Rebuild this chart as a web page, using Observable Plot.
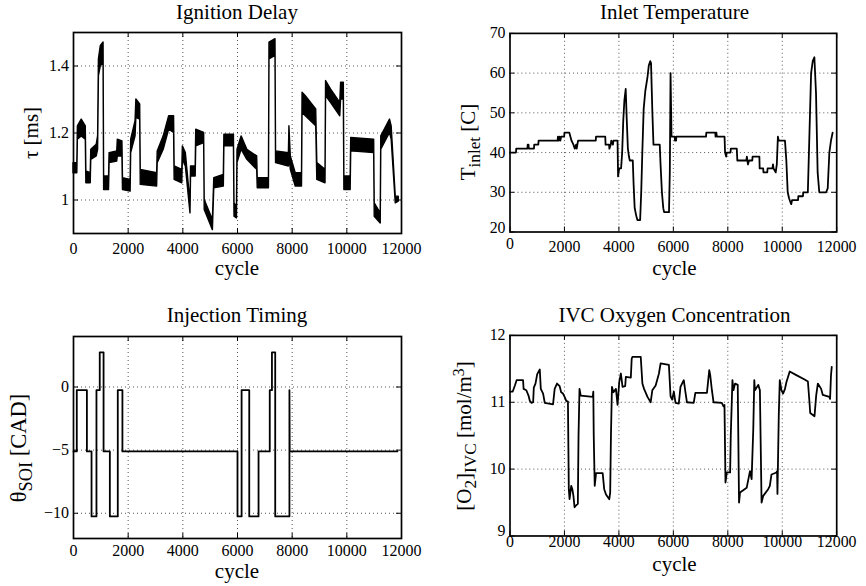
<!DOCTYPE html>
<html><head><meta charset="utf-8">
<script src="https://cdn.jsdelivr.net/npm/d3@7"></script>
<script src="https://cdn.jsdelivr.net/npm/@observablehq/plot@0.6"></script>
<style>
html,body{margin:0;padding:0;background:#fff;}
#chart{position:relative;width:866px;height:586px;overflow:hidden;background:#fff;font-family:"Liberation Serif","Times New Roman",serif;color:#000;}
.panel{position:absolute;}
.lbl{position:absolute;left:0;top:0;white-space:nowrap;line-height:0.6;}
.sub{font-size:0.82em;position:relative;top:0.3em;}
.sup{font-size:0.75em;position:relative;top:-0.45em;}
svg text{font-family:"Liberation Serif","Times New Roman",serif;}
</style></head><body><div id="chart"></div>
<script>
// ---------- data ----------
const xTicks = [0, 2000, 4000, 6000, 8000, 10000, 12000];
const titles = ["Ignition Delay", "Inlet Temperature", "Injection Timing", "IVC Oxygen Concentration"];

// Ignition delay [ms] (noise envelope lo / hi)
const idCycle = [0,140,160,300,450,470,630,650,850,900,930,1000,1100,1120,1300,1320,1600,1620,1790,1810,2090,2110,2270,2300,2440,2460,3060,3080,3300,3500,3680,3700,3980,4000,4110,4280,4300,4470,4490,4780,4800,5100,5150,5500,5520,5870,5890,5980,6000,6150,6360,6720,6740,7150,7170,7390,7410,7880,7900,7950,8130,8360,8380,8500,8880,8920,9220,9240,9420,9760,9790,9890,9910,10140,10160,11000,11020,11240,11260,11580,11640,11790,11900];
const idLow  = [1.08,1.08,1.18,1.19,1.18,1.05,1.05,1.12,1.13,1.15,1.37,1.40,1.41,1.03,1.03,1.11,1.115,1.13,1.13,1.03,1.025,1.14,1.19,1.245,1.24,1.045,1.04,1.11,1.15,1.21,1.20,1.06,1.05,1.12,1.10,0.96,1.07,1.07,1.16,1.17,0.97,0.91,1.035,1.04,1.16,1.16,0.95,0.945,1.11,1.15,1.12,1.09,1.035,1.035,1.42,1.43,1.11,1.10,1.14,1.09,1.04,1.04,1.26,1.25,1.22,1.06,1.05,1.31,1.29,1.25,1.30,1.30,1.03,1.03,1.145,1.14,0.95,0.93,1.15,1.20,1.18,0.99,0.995];
const idHigh = [1.11,1.11,1.22,1.24,1.22,1.085,1.08,1.15,1.165,1.19,1.42,1.46,1.47,1.07,1.07,1.14,1.145,1.18,1.175,1.065,1.06,1.18,1.235,1.30,1.285,1.09,1.08,1.145,1.19,1.25,1.25,1.10,1.09,1.16,1.14,0.99,1.10,1.10,1.21,1.20,1.0,0.94,1.065,1.075,1.195,1.195,0.99,0.98,1.15,1.19,1.15,1.13,1.065,1.065,1.47,1.48,1.145,1.14,1.22,1.13,1.08,1.08,1.32,1.31,1.27,1.11,1.09,1.355,1.33,1.29,1.35,1.35,1.07,1.07,1.185,1.18,0.99,0.96,1.19,1.24,1.22,1.01,1.01];

// Inlet temperature [C]
const tinCycle = [0,220,230,640,650,680,690,880,890,1040,1050,1750,1760,1790,1820,1850,1880,1990,2000,2180,2260,2330,2380,2430,2450,2500,3150,3160,3500,3510,3640,3650,3700,3720,3780,3800,3950,3970,4010,4080,4120,4160,4200,4250,4290,4330,4370,4400,4510,4540,4580,4640,4680,4780,4820,4860,4910,4970,5050,5100,5150,5180,5230,5270,5500,5530,5580,5630,5660,5840,5870,5897,5933,6050,6060,6100,6110,7200,7210,7540,7550,7580,7600,7880,7900,7940,7960,8100,8110,8330,8350,8680,8700,8740,8780,8900,8910,9160,9170,9300,9310,9450,9460,9640,9660,9680,9760,9800,9840,9870,10100,10150,10200,10250,10300,10330,10360,10580,10590,10760,10770,10940,11000,11060,11120,11180,11240,11300,11360,11610,11670,11730,11790,11850];
const tinTemp  = [40,40,41,41,42,42,41,41,42,42,43,43,44,43,44,43,44,44,45,45,43,42,41,42,41,43,43,44,44,42,42,41,42,43,42,43,43,34,36,36,40,48,53,56,48,41,39,38,38,32,26,24,23,23,30,40,51,55.5,59,62,63,62.5,50,42,42,37,30,26,25,25,35,60,44,44,43,43,44,44,45,45,44,45,44,44,40,39,40,40,41,41,38,38,39,37,38,38,39,39,36,36,35,35,36,36,37,36,35,37,44,43,43,38,30,28.5,27.5,27,28,28,29,29,30,30,45,60,63,64,55,35,30,30,31,40,43,45];

// Injection timing [CAD]
const soiCycle = [0,120,120,490,490,660,660,840,840,960,960,1100,1100,1330,1330,1620,1620,1790,1790,6000,6000,6150,6150,6430,6430,6770,6770,7180,7180,7260,7260,7380,7380,7900,7900,7910,11850];
const soiDeg   = [-5.1,-5.1,-0.25,-0.25,-5.1,-5.1,-10.25,-10.25,-0.25,-0.25,2.75,2.75,-5.1,-5.1,-10.25,-10.25,-0.25,-0.25,-5.1,-5.1,-10.25,-10.25,-0.25,-0.25,-10.25,-10.25,-5.1,-5.1,-0.25,-0.25,2.75,2.75,-10.25,-10.25,-0.25,-5.1,-5.1];

// IVC oxygen concentration [mol/m^3]
const o2Cycle = [0,100,180,243,480,500,600,680,729,790,850,875,936,1000,1094,1131,1216,1277,1581,1641,1726,1824,1880,1945,2006,2067,2128,2160,2188,2249,2290,2330,2371,2407,2492,2517,2553,2600,3040,3060,3076,3112,3161,3404,3460,3526,3647,3680,3708,3745,3800,3891,3951,4012,4073,4134,4231,4255,4438,4470,4498,4802,4863,4924,5050,5167,5228,5350,5471,5532,5836,5897,5957,6018,6079,6201,6262,6383,6444,6500,6748,6808,7234,7319,7356,7416,7477,7781,7842,7878,7915,7964,8085,8109,8170,8207,8268,8365,8413,8450,8693,8815,8875,8936,8973,8997,9119,9179,9240,9301,9483,9544,9605,9787,9810,9824,9872,9909,9970,10030,10100,10152,10274,10500,10821,10942,11000,11027,11185,11246,11307,11429,11489,11732,11757,11790,11818];
const o2Conc  = [11.16,11.16,11.25,11.33,11.33,11.2,11.18,11.1,11.02,10.99,11.0,11.22,11.28,11.42,11.49,11.2,11.13,10.99,10.97,11.2,11.28,11.24,11.15,11.13,11.08,11.02,11.01,9.7,9.55,9.75,9.7,9.6,9.43,9.45,9.48,10.5,11.2,11.1,11.08,11.16,10.5,9.75,9.94,9.94,9.7,9.62,9.55,9.65,10.5,11.23,11.15,11.2,10.96,11.3,11.43,11.23,11.24,11.38,11.37,11.65,11.68,11.68,11.28,11.2,11.08,11.0,11.18,11.25,11.43,11.58,11.56,11.09,11.04,11.16,10.99,10.98,11.23,11.33,11.15,11.0,10.99,11.14,11.14,11.48,11.4,11.18,11.0,10.99,10.94,10.96,9.8,9.95,9.95,10.5,11.33,11.18,11.28,11.26,9.5,9.65,9.72,9.97,9.85,10.6,11.33,11.18,11.26,11.18,9.5,9.6,9.7,9.75,9.92,9.95,9.97,9.63,10.8,11.33,11.18,11.13,11.2,11.3,11.46,11.41,11.34,11.31,11.0,10.84,10.79,11.1,11.28,11.2,11.11,11.08,11.05,11.4,11.53];

const tauTicks = [1, 1.2, 1.4];
const tinTicks = [20, 30, 40, 50, 60, 70];
const soiTicks = [-10, -5, 0];
const o2Ticks  = [9, 10, 11, 12];

// ---------- drawing ----------
const chart = document.getElementById("chart");
const FONT = "Liberation Serif, Times New Roman, serif";
const fmtNum = d => String(d).replace("-", "\u2212");
const grid = {stroke: "#000", strokeWidth: 0.9, strokeDasharray: "1,3", strokeOpacity: 0.75};
const tickFont = {fontSize: 16, fontFamily: FONT, fill: "#000", lineAnchor: "middle"};

function panel(cfg) {
  const {left, top, right, bottom, yDomain, yTicks, dataMarks, xDy, x0Dy, y0Dy} = cfg;
  const ML = 72, MR = 30, MT = 14, MB = 30;
  const fw = right - left, fh = bottom - top;
  const xMain = x0Dy == null ? xTicks : xTicks.slice(1);
  const yMain = y0Dy == null ? yTicks : yTicks.slice(1);
  const marks = [
    Plot.ruleX(xTicks.slice(1, -1), {x: d => d, ...grid}),
    Plot.ruleY(yTicks.filter(v => v > yDomain[0] && v < yDomain[1]), {y: d => d, ...grid}),
    ...dataMarks,
    Plot.ruleX(xTicks, {x: d => d, insetTop: fh - 5, stroke: "#000", strokeWidth: 1}),
    Plot.ruleX(xTicks, {x: d => d, insetBottom: fh - 5, stroke: "#000", strokeWidth: 1}),
    Plot.ruleY(yTicks, {y: d => d, insetRight: fw - 5, stroke: "#000", strokeWidth: 1}),
    Plot.ruleY(yTicks, {y: d => d, insetLeft: fw - 5, stroke: "#000", strokeWidth: 1}),
    Plot.frame({stroke: "#000", strokeWidth: 1.7}),
    Plot.text(xMain, {x: d => d, frameAnchor: "bottom", dy: xDy, text: d => String(d), ...tickFont}),
    Plot.text(yMain, {y: d => d, frameAnchor: "left", dx: -4.5, textAnchor: "end", text: fmtNum, ...tickFont})
  ];
  if (x0Dy != null) marks.push(Plot.text([xTicks[0]], {x: d => d, frameAnchor: "bottom", dy: x0Dy, text: d => String(d), ...tickFont}));
  if (y0Dy != null) marks.push(Plot.text([yTicks[0]], {y: d => d, frameAnchor: "left", dx: -4.5, dy: y0Dy, textAnchor: "end", text: fmtNum, ...tickFont}));
  const svg = Plot.plot({
    width: ML + fw + MR, height: MT + fh + MB,
    marginLeft: ML, marginRight: MR, marginTop: MT, marginBottom: MB,
    x: {domain: [0, 12000], axis: null},
    y: {domain: yDomain, axis: null},
    style: {fontFamily: FONT, fontSize: "16px", background: "transparent", overflow: "visible", color: "#000"},
    marks
  });
  const wrap = document.createElement("div");
  wrap.className = "panel";
  wrap.style.left = (left - ML) + "px";
  wrap.style.top = (top - MT) + "px";
  wrap.appendChild(svg);
  chart.appendChild(wrap);
}

// line-height 0.6 -> baseline sits 0.6375em below the box top
const BASE = 0.6375;
function hText(html, cx, baseline, size = 21) {
  const d = document.createElement("div");
  d.className = "lbl";
  d.style.fontSize = size + "px";
  d.innerHTML = html;
  d.style.transform = `translate(${cx}px, ${baseline - BASE * size}px) translateX(-50%)`;
  chart.appendChild(d);
}
function vText(html, baselineX, cy, size = 21) {
  const d = document.createElement("div");
  d.className = "lbl";
  d.style.fontSize = size + "px";
  d.style.transformOrigin = "0 0";
  d.innerHTML = html;
  d.style.transform = `translate(${baselineX - BASE * size}px, ${cy}px) rotate(-90deg) translate(-50%, 0)`;
  chart.appendChild(d);
}

const lineStyle = {stroke: "#000", strokeWidth: 1.8};

// Ignition delay
const idRows = idCycle.map((c, i) => ({c, lo: idLow[i], hi: idHigh[i]}));
panel({left: 73, top: 32, right: 401, bottom: 233, yDomain: [0.9, 1.5], yTicks: tauTicks, xDy: 15,
  dataMarks: [Plot.areaY(idRows, {x: "c", y1: "lo", y2: "hi", fill: "#000", stroke: "#000", strokeWidth: 1.4})]});

// Inlet temperature
panel({left: 510, top: 33, right: 839, bottom: 233, yDomain: [20, 70], yTicks: tinTicks, xDy: 15, x0Dy: 12, y0Dy: -4,
  dataMarks: [Plot.line(tinCycle.map((c, i) => ({c, v: tinTemp[i]})), {x: "c", y: "v", ...lineStyle})]});

// Injection timing
panel({left: 73, top: 336, right: 401, bottom: 538, yDomain: [-12, 4], yTicks: soiTicks, xDy: 12,
  dataMarks: [Plot.line(soiCycle.map((c, i) => ({c, v: soiDeg[i]})), {x: "c", y: "v", ...lineStyle})]});

// IVC oxygen
panel({left: 510, top: 335, right: 839, bottom: 537, yDomain: [9, 12], yTicks: o2Ticks, xDy: 6, x0Dy: 6, y0Dy: -5,
  dataMarks: [Plot.line(o2Cycle.map((c, i) => ({c, v: o2Conc[i]})), {x: "c", y: "v", ...lineStyle})]});

// titles
hText(titles[0], 237, 19.5);
hText(titles[1], 674.5, 19.5);
hText(titles[2], 237, 322.5);
hText(titles[3], 674.5, 322.5);
// x labels
hText("cycle", 237, 275);
hText("cycle", 674.5, 275);
hText("cycle", 237, 578);
hText("cycle", 674.5, 571);
// y labels
vText("τ [ms]", 38, 133);
vText('T<span class="sub">inlet</span> [C]', 475, 142);
vText('θ<span class="sub">SOI</span> [CAD]', 26, 448, 22.5);
vText('[O<span class="sub">2</span>]<span class="sub">IVC</span> [mol/m<span class="sup">3</span>]', 471, 436);
</script>
</body></html>
